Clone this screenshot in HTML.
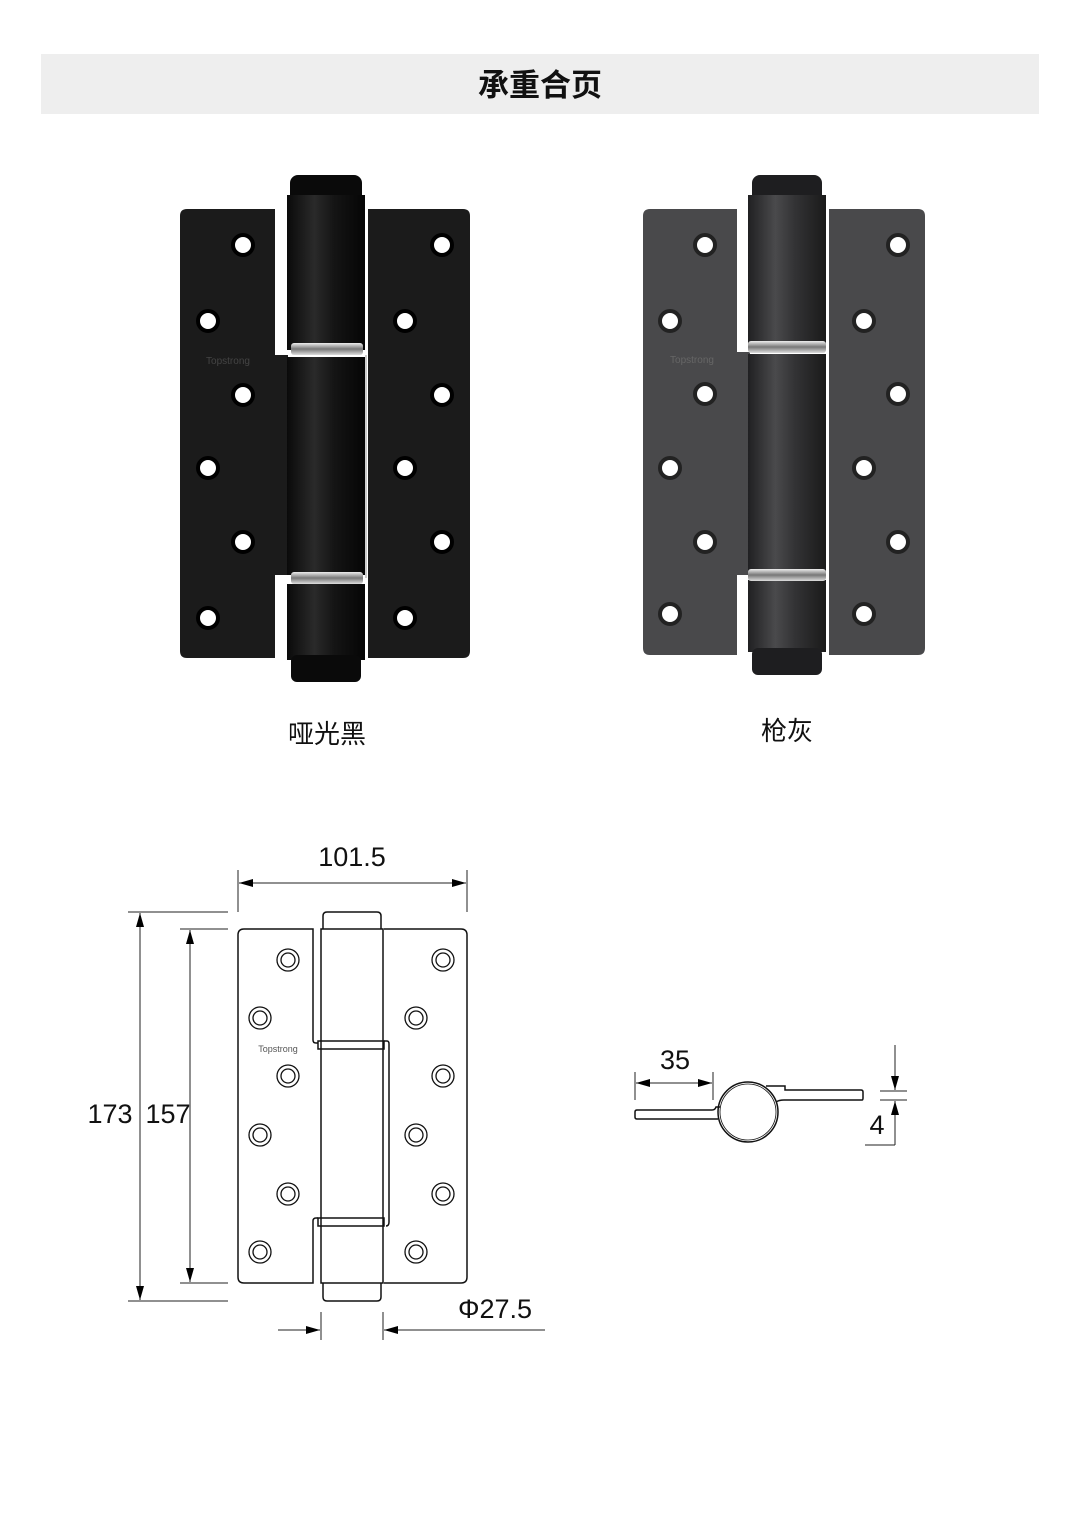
<!DOCTYPE html>
<html><head><meta charset="utf-8"><style>
html,body{margin:0;padding:0;background:#fff;}
body{width:1080px;height:1524px;position:relative;overflow:hidden;font-family:"Liberation Sans","Noto Sans CJK SC",sans-serif;}
</style></head><body>
<svg width="1080" height="1524" viewBox="0 0 1080 1524" xmlns="http://www.w3.org/2000/svg" style="position:absolute;left:0;top:0">
<defs>
<linearGradient id="bk" x1="0" x2="1"><stop offset="0" stop-color="#0a0a0a"/><stop offset="0.35" stop-color="#2a2a2a"/><stop offset="0.6" stop-color="#151515"/><stop offset="1" stop-color="#050505"/></linearGradient>
<linearGradient id="gy" x1="0" x2="1"><stop offset="0" stop-color="#202022"/><stop offset="0.35" stop-color="#4a4a4c"/><stop offset="0.6" stop-color="#333335"/><stop offset="1" stop-color="#1a1a1a"/></linearGradient>
<linearGradient id="ch" x1="0" x2="0" y1="0" y2="1"><stop offset="0" stop-color="#eee"/><stop offset="0.5" stop-color="#777"/><stop offset="1" stop-color="#ddd"/></linearGradient>
<marker id="ar" viewBox="0 0 14 8" refX="14" refY="4" markerWidth="14" markerHeight="8" orient="auto-start-reverse" markerUnits="userSpaceOnUse"><path d="M0,0 L14,4 L0,8z" fill="#000"/></marker>
</defs>
<rect x="41" y="54" width="998" height="60" fill="#eeeeee"/>
<text x="540" y="96" font-size="31" font-weight="bold" text-anchor="middle" fill="#111" font-family="Liberation Sans,Noto Sans CJK SC,sans-serif">承重合页</text>

<!-- black hinge -->
<g>
<path d="M187,209 H275 V355 H288 V575 H275 V658 H187 Q180,658 180,651 V216 Q180,209 187,209Z" fill="#1b1b1b"/>
<path d="M368,209 H463 Q470,209 470,216 V651 Q470,658 463,658 H368 Z" fill="#1b1b1b"/>
<rect x="290" y="175" width="72" height="34" rx="8" fill="#0a0a0a"/>
<rect x="287" y="195" width="78" height="155" fill="url(#bk)"/>
<rect x="287" y="357" width="78" height="218" fill="url(#bk)"/>
<rect x="287" y="584" width="78" height="76" fill="url(#bk)"/>
<rect x="291" y="655" width="70" height="27" rx="6" fill="#0a0a0a"/>
<rect x="291" y="343" width="72" height="12" rx="3" fill="url(#ch)"/>
<rect x="291" y="572" width="72" height="12" rx="3" fill="url(#ch)"/>
<line x1="366" y1="355" x2="366" y2="578" stroke="#ccc" stroke-width="2"/>
<text x="228" y="364" font-size="10" fill="#444" text-anchor="middle">Topstrong</text>
<g fill="#fff" stroke="#000" stroke-width="4">
<circle cx="243" cy="245" r="10"/><circle cx="208" cy="321" r="10"/><circle cx="243" cy="395" r="10"/><circle cx="208" cy="468" r="10"/><circle cx="243" cy="542" r="10"/><circle cx="208" cy="618" r="10"/>
<circle cx="442" cy="245" r="10"/><circle cx="405" cy="321" r="10"/><circle cx="442" cy="395" r="10"/><circle cx="405" cy="468" r="10"/><circle cx="442" cy="542" r="10"/><circle cx="405" cy="618" r="10"/>
</g>
</g>

<!-- gray hinge -->
<g>
<path d="M650,209 H737 V352 H750 V575 H737 V655 H650 Q643,655 643,648 V216 Q643,209 650,209Z" fill="#49494b"/>
<path d="M829,209 H918 Q925,209 925,216 V648 Q925,655 918,655 H829 Z" fill="#49494b"/>
<rect x="752" y="175" width="70" height="34" rx="8" fill="#1e1e20"/>
<rect x="748" y="195" width="78" height="152" fill="url(#gy)"/>
<rect x="748" y="354" width="78" height="218" fill="url(#gy)"/>
<rect x="748" y="580" width="78" height="72" fill="url(#gy)"/>
<rect x="752" y="648" width="70" height="27" rx="6" fill="#1e1e20"/>
<rect x="748" y="341" width="78" height="12" rx="3" fill="url(#ch)"/>
<rect x="748" y="569" width="78" height="12" rx="3" fill="url(#ch)"/>
<text x="692" y="363" font-size="10" fill="#666" text-anchor="middle">Topstrong</text>
<g fill="#fff" stroke="#222" stroke-width="4">
<circle cx="705" cy="245" r="10"/><circle cx="670" cy="321" r="10"/><circle cx="705" cy="394" r="10"/><circle cx="670" cy="468" r="10"/><circle cx="705" cy="542" r="10"/><circle cx="670" cy="614" r="10"/>
<circle cx="898" cy="245" r="10"/><circle cx="864" cy="321" r="10"/><circle cx="898" cy="394" r="10"/><circle cx="864" cy="468" r="10"/><circle cx="898" cy="542" r="10"/><circle cx="864" cy="614" r="10"/>
</g>
</g>
<text x="327" y="743" font-size="26" text-anchor="middle" fill="#111">哑光黑</text>
<text x="787" y="740" font-size="26" text-anchor="middle" fill="#111">枪灰</text>

<!-- line drawing -->
<g fill="none" stroke="#111" stroke-width="1.5">
<path d="M318,1043 H316 Q313,1043 313,1040 V929 H244 Q238,929 238,935 V1277 Q238,1283 244,1283 H313 V1221 Q313,1218 316,1218 H318"/>
<path d="M384,929 H461 Q467,929 467,935 V1277 Q467,1283 461,1283 H384"/>
<rect x="321" y="929" width="62" height="354"/>
<path d="M323,929 V916 Q323,912 327,912 H377 Q381,912 381,916 V929"/>
<path d="M323,1283 V1297 Q323,1301 327,1301 H377 Q381,1301 381,1297 V1283"/>
<rect x="318" y="1041" width="66" height="8"/>
<rect x="318" y="1218" width="66" height="8"/>
<path d="M384,1041 H387 Q389,1041 389,1044 V1222 Q389,1226 386,1226"/>
<g stroke-width="1.3">
<circle cx="288" cy="960" r="11"/><circle cx="288" cy="960" r="7"/>
<circle cx="260" cy="1018" r="11"/><circle cx="260" cy="1018" r="7"/>
<circle cx="288" cy="1076" r="11"/><circle cx="288" cy="1076" r="7"/>
<circle cx="260" cy="1135" r="11"/><circle cx="260" cy="1135" r="7"/>
<circle cx="288" cy="1194" r="11"/><circle cx="288" cy="1194" r="7"/>
<circle cx="260" cy="1252" r="11"/><circle cx="260" cy="1252" r="7"/>
<circle cx="443" cy="960" r="11"/><circle cx="443" cy="960" r="7"/>
<circle cx="416" cy="1018" r="11"/><circle cx="416" cy="1018" r="7"/>
<circle cx="443" cy="1076" r="11"/><circle cx="443" cy="1076" r="7"/>
<circle cx="416" cy="1135" r="11"/><circle cx="416" cy="1135" r="7"/>
<circle cx="443" cy="1194" r="11"/><circle cx="443" cy="1194" r="7"/>
<circle cx="416" cy="1252" r="11"/><circle cx="416" cy="1252" r="7"/>
</g>
</g>
<text x="278" y="1052" font-size="9" fill="#555" text-anchor="middle">Topstrong</text>

<!-- dimensions -->
<g stroke="#222" stroke-width="1" fill="none">
<line x1="238" y1="870" x2="238" y2="912"/><line x1="467" y1="870" x2="467" y2="912"/>
<line x1="239" y1="883" x2="466" y2="883" marker-start="url(#ar)" marker-end="url(#ar)"/>
<line x1="128" y1="912" x2="228" y2="912"/><line x1="128" y1="1301" x2="228" y2="1301"/>
<line x1="140" y1="913" x2="140" y2="1300" marker-start="url(#ar)" marker-end="url(#ar)"/>
<line x1="180" y1="929" x2="228" y2="929"/><line x1="180" y1="1283" x2="228" y2="1283"/>
<line x1="190" y1="930" x2="190" y2="1282" marker-start="url(#ar)" marker-end="url(#ar)"/>
<line x1="321" y1="1312" x2="321" y2="1340"/><line x1="383" y1="1312" x2="383" y2="1340"/>
<line x1="278" y1="1330" x2="320" y2="1330" marker-end="url(#ar)"/>
<line x1="545" y1="1330" x2="384" y2="1330" marker-end="url(#ar)"/>
<line x1="635" y1="1072" x2="635" y2="1100"/><line x1="713" y1="1072" x2="713" y2="1100"/>
<line x1="636" y1="1083" x2="712" y2="1083" marker-start="url(#ar)" marker-end="url(#ar)"/>
<line x1="880" y1="1091" x2="907" y2="1091"/><line x1="880" y1="1100" x2="907" y2="1100"/>
<line x1="895" y1="1045" x2="895" y2="1090" marker-end="url(#ar)"/>
<line x1="895" y1="1145" x2="895" y2="1101" marker-end="url(#ar)"/>
<line x1="865" y1="1145" x2="895" y2="1145"/>
</g>
<g stroke="#111" stroke-width="1.5" fill="none">
<circle cx="748" cy="1112" r="30"/>
<circle cx="748" cy="1112" r="28" stroke-width="0.8"/>
<path d="M720,1107 H716 Q715,1110 712,1110 H637 Q635,1110 635,1112 V1117 Q635,1119 637,1119 H718"/>
<path d="M776,1102 Q779,1100 784,1100 H862 Q863,1100 863,1098 V1092 Q863,1090 861,1090 H785 V1086 H766"/>
</g>
<g font-size="27" fill="#111" text-anchor="middle">
<text x="352" y="866">101.5</text>
<text x="110" y="1123">173</text>
<text x="168" y="1123">157</text>
<text x="495" y="1318">Φ27.5</text>
<text x="675" y="1069">35</text>
<text x="877" y="1134">4</text>
</g>
</svg>
</body></html>
